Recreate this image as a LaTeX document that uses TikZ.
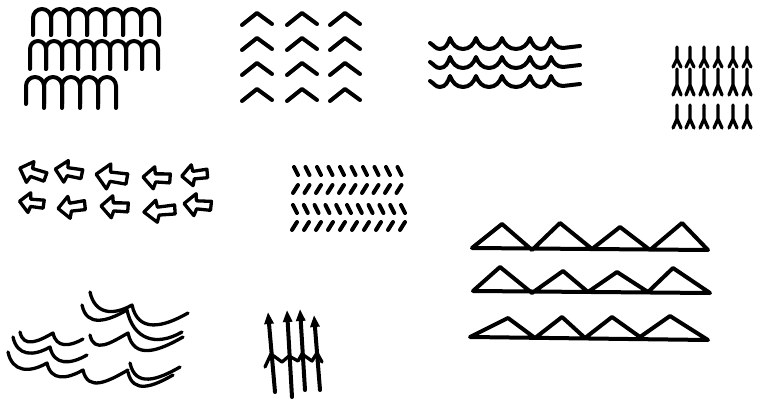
\documentclass[tikz,border=0pt]{standalone}
\usetikzlibrary{arrows.meta}
\tikzset{
  ink/.style={line width=4pt, line cap=round, line join=round},
  thinink/.style={line width=3.3pt, line cap=round, line join=round},
  scallop/.style={out=-78, in=-150, looseness=1.3},
  larrow/.pic={\draw[thinink] (-14,0) -- (-3,-11) -- (-2,-4) -- (13,-5) -- (13,4) -- (-1,4) -- (-3,11) -- cycle;}
}

\begin{document}
\begin{tikzpicture}[x=1pt, y=-1pt]
  \useasboundingbox (0,0) rectangle (757,401);
  % arches top-left  (y axis points down, as in the scan; to[] angles stay on the page)
  \foreach \x in {33,51,...,141}
    \draw[ink] (\x,35) -- (\x,18) to[out=90,in=180] (\x+9,9) to[out=0,in=90] (\x+18,18) -- (\x+18,35);
  \foreach \x in {30,46,...,142}
    \draw[ink] (\x,69) -- (\x,49) to[out=90,in=180] (\x+8,41) to[out=0,in=90] (\x+16,49) -- (\x+16,69);
  \foreach \x in {26,44,...,98}
    \draw[ink] (\x,104) -- (\x,86) to[out=90,in=180] (\x+9,77) to[out=0,in=90] (\x+18,86) -- (\x+18,108);
  % chevrons 3 x 4
  \foreach \ax in {257,302,345}
    \foreach \ay in {13,38,63,89}
      \draw[ink] (\ax-15,\ay+12) -- (\ax,\ay) -- (\ax+15,\ay+11);
  % three wave lines
  \foreach \p in {38,57,76}
    \draw[ink] (430,\p+5) to[out=-30,in=180] (440,\p+11) to[out=0,in=-110] (450,\p)
      \foreach \t/\px in {463/476,489/502,516/530,541/551} { to[out=-70,in=180] (\t,\p+11) to[out=0,in=-110] (\px,\p) }
      to[out=-70,in=180] (563,\p+10) -- (580,\p+8);
  % forked marks top-right
  \foreach \x in {677,690,704,718,733,747}
    \foreach \t/\f/\b in {47/59/67,69/85/95,105/119/128}
      \draw[thinink] (\x,\t) -- (\x,\f) -- (\x-4,\b) (\x,\f) -- (\x+4,\b);
  % hollow arrows pointing left, two rows
  \pic[rotate=-20] at (33,173) {larrow};
  \pic[rotate=-12] at (69,172) {larrow};
  \pic[rotate=-10, scale=1.15] at (112,177) {larrow};
  \pic[rotate=-4] at (157,178) {larrow};
  \pic[rotate=5, scale=0.95] at (195,175) {larrow};
  \pic[rotate=-8, scale=0.9] at (32,203) {larrow};
  \pic[rotate=6] at (72,207) {larrow};
  \pic[rotate=-4] at (115,207) {larrow};
  \pic[rotate=4, xscale=1.15] at (160,211) {larrow};
  \pic[rotate=-6] at (198,205) {larrow};
  % dashed chevron bands
  \foreach \i in {0,...,9}
    \draw[ink] (294+11.5*\i,167) -- (298+11.5*\i,175) (293+11.5*\i,193) -- (298+11.5*\i,185);
  \foreach \i in {0,...,10}
    \draw[ink] (293+10.8*\i,205) -- (297+10.8*\i,213);
  \foreach \i in {0,...,9}
    \draw[ink] (292+12*\i,230) -- (297+12*\i,222);
  % triangle rows
  \draw[ink] (472,248) -- (502,224) -- (532,250) -- (560,223) -- (592,249) -- (620,227) -- (650,250) -- (682,223) -- (708,250) -- cycle;
  \draw[ink] (473,291) -- (500,267) -- (532,293) -- (563,271) -- (588,292) -- (617,272) -- (648,292) -- (673,268) -- (710,293) -- cycle;
  \draw[ink] (470,337) -- (508,318) -- (535,338) -- (562,317) -- (585,338) -- (612,317) -- (640,337) -- (670,316) -- (708,340) -- cycle;
  % scalloped waves bottom-left
  \draw[thinink] (20,332) to[scallop] (53,333) to[scallop] (83,339);
  \draw[thinink] (13,337) to[scallop] (50,347) to[scallop] (87,355);
  \draw[thinink] (8,352) to[scallop] (47,363) to[scallop] (83,370) to[scallop] (128,370);
  \draw[thinink] (90,292) to[scallop] (132,305) to[scallop] (188,313);
  \draw[thinink] (82,305) to[scallop] (127,310) to[scallop] (182,332);
  \draw[thinink] (90,335) to[scallop] (128,333) to[scallop] (183,337);
  \draw[thinink] (130,363) to[scallop] (180,367);
  \draw[thinink] (128,372) to[scallop] (173,375);
  % upward arrows with zigzag band
  \foreach \bx/\by/\tx/\ty in {275/392/268/312, 292/397/287/310, 305/390/300/309, 320/390/314/315}
    \draw[ink, -{Triangle[length=12pt, width=9pt]}] (\bx,\by) -- (\tx,\ty);
  \draw[thinink] (265,367) -- (271,354) -- (282,362) -- (289,356) -- (298,361) -- (302,354) -- (312,361) -- (317,353) -- (322,362);
\end{tikzpicture}
\end{document}
